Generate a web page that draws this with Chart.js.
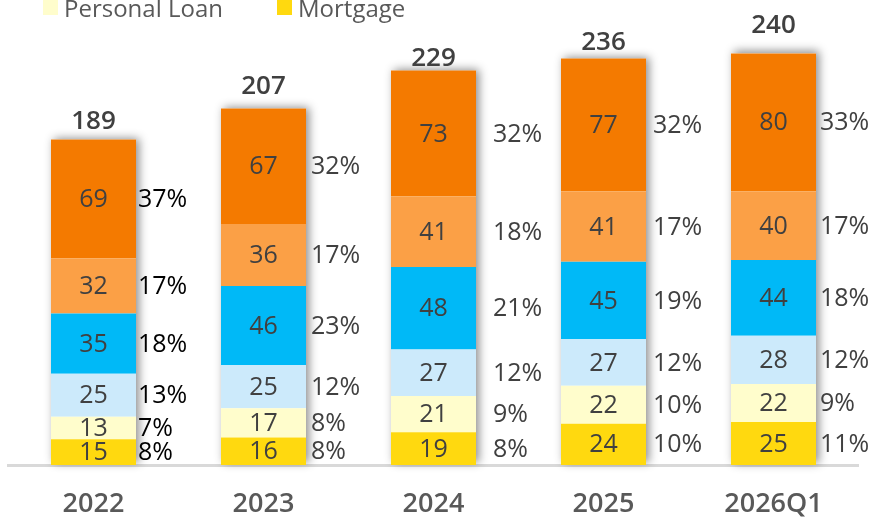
<!DOCTYPE html>
<html>
<head>
<meta charset="utf-8">
<script src="https://cdn.jsdelivr.net/npm/chart.js@4"></script>
<style>
  html, body { margin: 0; padding: 0; background: #fff; }
  #wrap { position: relative; width: 870px; height: 520px; }
</style>
</head>
<body>
<div id="wrap"><canvas id="chart" width="870" height="520"></canvas></div>
<script>
  const years = ["2022", "2023", "2024", "2025", "2026Q1"];

  // stacked from the bottom up
  const mortgage = [15, 16, 19, 24, 25];
  const personalLoan = [13, 17, 21, 22, 22];
  const creditCard = [25, 25, 27, 27, 28];
  const autoLoan = [35, 46, 48, 45, 44];
  const sme = [32, 36, 41, 41, 40];
  const corporate = [69, 67, 73, 77, 80];

  const mortgagePct = ["8%", "8%", "8%", "10%", "11%"];
  const personalLoanPct = ["7%", "8%", "9%", "10%", "9%"];
  const creditCardPct = ["13%", "12%", "12%", "12%", "12%"];
  const autoLoanPct = ["18%", "23%", "21%", "19%", "18%"];
  const smePct = ["17%", "17%", "18%", "17%", "17%"];
  const corporatePct = ["37%", "32%", "32%", "32%", "33%"];

  const totals = [189, 207, 229, 236, 240];

  const colors = {
    mortgage: "#FFD90F",
    personalLoan: "#FFFDCC",
    creditCard: "#CCEAFB",
    autoLoan: "#00B9F7",
    sme: "#FBA046",
    corporate: "#F47A00",
    text: "#404040",
    axis: "#D9D9D9",
  };

  const font = "'Open Sans', 'Noto Sans', sans-serif";
  // label placement, as the labels were nudged by hand in the original
  const pctOffset = [2, 5, 17, 7, 4];
  const totalLift = [11, 15, 5, 9, 20];

  const barShadow = {
    id: "barShadow",
    beforeDatasetsDraw(chart) {
      const ctx = chart.ctx;
      const first = chart.getDatasetMeta(0).data;
      const last = chart.getDatasetMeta(chart.data.datasets.length - 1).data;
      ctx.save();
      ctx.shadowColor = "rgba(0,0,0,0.45)";
      ctx.shadowBlur = 9;
      ctx.shadowOffsetX = 3;
      ctx.shadowOffsetY = -2;
      ctx.fillStyle = "#ffffff";
      first.forEach((bar, i) => {
        const top = last[i].y;
        const w = bar.width;
        ctx.fillRect(bar.x - w / 2, top, w, bar.base - top);
      });
      ctx.restore();
    },
  };

  const labels = {
    id: "labels",
    afterDatasetsDraw(chart) {
      const ctx = chart.ctx;
      ctx.save();
      chart.data.datasets.forEach((ds, d) => {
        chart.getDatasetMeta(d).data.forEach((bar, i) => {
          const cy = (bar.y + bar.base) / 2;
          ctx.font = `25px ${font}`;
          ctx.textBaseline = "middle";
          ctx.textAlign = "center";
          ctx.fillStyle = colors.text;
          ctx.fillText(String(ds.data[i]), bar.x, cy + 1);
          ctx.textAlign = "left";
          ctx.fillStyle = i === 0 ? "#000000" : colors.text;
          ctx.fillText(ds.pct[i], bar.x + bar.width / 2 + pctOffset[i], cy + 1);
        });
      });
      const last = chart.getDatasetMeta(chart.data.datasets.length - 1).data;
      ctx.font = `600 26px ${font}`;
      ctx.textAlign = "center";
      ctx.textBaseline = "alphabetic";
      ctx.fillStyle = colors.text;
      last.forEach((bar, i) => {
        ctx.fillText(String(totals[i]), bar.x, bar.y - totalLift[i]);
      });
      ctx.restore();
    },
  };

  const topLegend = {
    id: "topLegend",
    afterDraw(chart) {
      const ctx = chart.ctx;
      const items = [
        { ds: 1, box: 43, text: 64 },
        { ds: 0, box: 277, text: 298 },
      ];
      ctx.save();
      ctx.font = `24px ${font}`;
      ctx.textAlign = "left";
      ctx.textBaseline = "alphabetic";
      items.forEach((it) => {
        const ds = chart.data.datasets[it.ds];
        ctx.fillStyle = ds.backgroundColor;
        ctx.fillRect(it.box, 0, 15, 15);
        ctx.fillStyle = "#595959";
        ctx.fillText(ds.label, it.text, 17);
      });
      ctx.restore();
    },
  };

  function series(label, data, pct, color) {
    return { label, data, pct, backgroundColor: color, borderWidth: 0 };
  }

  new Chart(document.getElementById("chart"), {
    type: "bar",
    data: {
      labels: years,
      datasets: [
        series("Mortgage", mortgage, mortgagePct, colors.mortgage),
        series("Personal Loan", personalLoan, personalLoanPct, colors.personalLoan),
        series("Credit Card", creditCard, creditCardPct, colors.creditCard),
        series("Auto Loan", autoLoan, autoLoanPct, colors.autoLoan),
        series("SME", sme, smePct, colors.sme),
        series("Corporate", corporate, corporatePct, colors.corporate),
      ],
    },
    options: {
      responsive: false,
      animation: false,
      layout: { padding: { left: 8.5, right: 11.5, top: 0, bottom: 0 } },
      datasets: { bar: { barPercentage: 0.5, categoryPercentage: 1 } },
      plugins: {
        legend: { display: false },
        tooltip: { enabled: false },
      },
      scales: {
        x: {
          stacked: true,
          grid: { display: false, drawTicks: false },
          border: { color: colors.axis, width: 3 },
          ticks: {
            padding: 23,
            color: "#595959",
            font: { family: font, size: 27, weight: "600" },
          },
          afterFit(scale) {
            scale.height = 55;
          },
        },
        y: {
          stacked: true,
          display: false,
          min: 0,
          max: 270,
        },
      },
    },
    plugins: [barShadow, labels, topLegend],
  });
</script>
</body>
</html>
